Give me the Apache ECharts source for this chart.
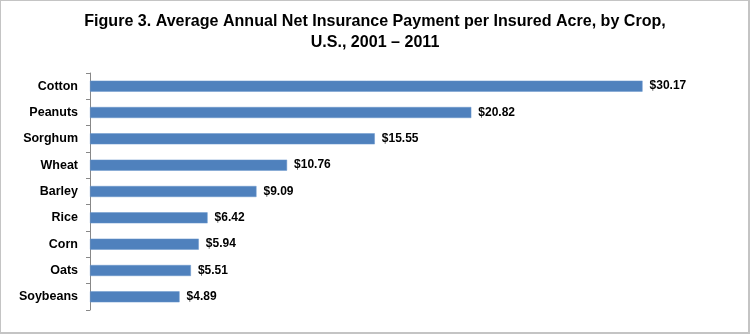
<!DOCTYPE html>
<html><head><meta charset="utf-8">
<script src="https://cdn.jsdelivr.net/npm/echarts@6/dist/echarts.min.js"></script>
<style>
html,body{margin:0;padding:0;background:#fff;}
#wrap{width:750px;height:334px;box-sizing:border-box;border-left:1px solid #c4c4c4;border-top:1px solid #c4c4c4;border-right:2px solid #c4c4c4;border-bottom:2px solid #c4c4c4;position:relative;}
#c{position:absolute;left:-1px;top:-1px;width:750px;height:334px;}
</style></head>
<body><div id="wrap"><div id="c"></div></div>
<script>
const titleLines = ["Figure 3. Average Annual Net Insurance Payment per Insured Acre, by Crop,", "U.S., 2001 \u2013 2011"];
const crops = ["Cotton","Peanuts","Sorghum","Wheat","Barley","Rice","Corn","Oats","Soybeans"];
const payments = [30.17, 20.82, 15.55, 10.76, 9.09, 6.42, 5.94, 5.51, 4.89];

const chart = echarts.init(document.getElementById('c'));
chart.setOption({
  animation:false,
  graphic:[{
    type:'text', x:375, y:11, scaleX:0.945, scaleY:1,
    style:{text:titleLines.join('\n'),textAlign:'center',verticalAlign:'top',
      fontFamily:'"Liberation Sans",Arial,sans-serif',fontWeight:'bold',fontSize:17,lineHeight:21,fill:'#000'}
  }],
  grid:{left:90,right:19,top:73,bottom:24,containLabel:false},
  xAxis:{type:'value',min:0,max:35,show:false,splitLine:{show:false}},
  yAxis:{type:'category',data:crops,inverse:true,
    axisLine:{show:true,lineStyle:{color:'#888',width:1}},
    axisTick:{show:true,length:4,lineStyle:{color:'#888'}},
    axisLabel:{margin:12,color:'#000',fontWeight:'bold',fontSize:12.5,fontFamily:'"Liberation Sans",Arial,sans-serif'}
  },
  series:[{type:'bar',data:payments,barWidth:11,
    itemStyle:{color:'#4F81BD',borderColor:'#6b96cc',borderWidth:0.5},
    label:{show:true,position:'right',distance:7,color:'#000',fontWeight:'bold',fontSize:12,fontFamily:'"Liberation Sans",Arial,sans-serif',
      formatter:p=>'$'+p.value.toFixed(2)}
  }]
});
</script></body></html>
